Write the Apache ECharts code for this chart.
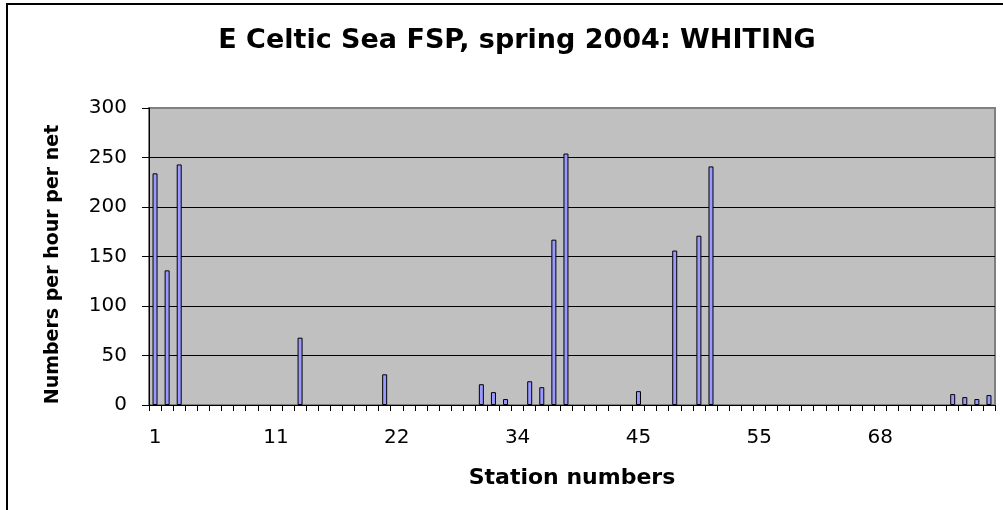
<!DOCTYPE html>
<html>
<head>
<meta charset="utf-8">
<script src="https://cdn.jsdelivr.net/npm/echarts@6/dist/echarts.min.js"></script>
<style>html,body{margin:0;padding:0;background:#fff}#c{width:1003px;height:510px}</style>
</head>
<body>
<div id="c"></div>
<script>
const stations = [1,2,3,4,5,6,7,8,9,10,
  11,12,13,14,15,16,17,18,19,21,
  22,23,24,25,26,27,28,30,31,33,
  34,35,36,37,38,39,40,41,42,44,
  45,46,47,48,49,50,51,52,53,54,
  55,56,57,58,60,61,63,64,65,67,
  68,69,70,71,72,73,74,75,76,77];
const whiting = [234,136,243,0,0,0,0,0,0,0,
  0,0,68,0,0,0,0,0,0,31,
  0,0,0,0,0,0,0,21,13,6,
  0,24,18,167,254,0,0,0,0,0,
  14,0,0,156,0,171,241,0,0,0,
  0,0,0,0,0,0,0,0,0,0,
  0,0,0,0,0,0,11,8,6,10];
const yTicks = [0,50,100,150,200,250,300];

const chart = echarts.init(document.getElementById('c'), null, {renderer:'canvas'});
chart.setOption({
  animation:false,
  backgroundColor:'#ffffff',
  title:{
    text:'E Celtic Sea FSP, spring 2004: WHITING',
    left:512, top:22, textAlign:'center',
    textStyle:{fontFamily:'DejaVu Sans', fontWeight:'bold', fontSize:27, color:'#000'}
  },
  graphic:[{type:'rect', shape:{x:7,y:4,width:1010,height:520}, style:{fill:'none', stroke:'#000', lineWidth:2}, z:-1}],
  grid:{left:149, right:8, top:108, bottom:105, show:true, backgroundColor:'#c0c0c0', borderColor:'#808080', borderWidth:2},
  xAxis:{
    type:'category', data:stations.map(String),
    name:'Station numbers', nameLocation:'middle', nameGap:62,
    nameTextStyle:{fontFamily:'DejaVu Sans', fontWeight:'bold', fontSize:22, color:'#000'},
    axisLine:{lineStyle:{color:'#000', width:1}},
    axisTick:{show:true, interval:0, length:6, lineStyle:{color:'#000'}},
    axisLabel:{interval:9, margin:23, fontFamily:'DejaVu Sans', fontSize:20, color:'#000'}
  },
  yAxis:{
    type:'value', min:yTicks[0], max:yTicks[yTicks.length-1], interval:50,
    name:'Numbers per hour per net', nameLocation:'middle', nameGap:86,
    nameTextStyle:{fontFamily:'DejaVu Sans', fontWeight:'bold', fontSize:19, color:'#000', padding:[0,16,0,0]},
    axisLine:{show:true, lineStyle:{color:'#000', width:1}},
    axisTick:{show:true, length:7, lineStyle:{color:'#000'}},
    axisLabel:{margin:22, fontFamily:'DejaVu Sans', fontSize:20, color:'#000'},
    splitLine:{show:true, showMaxLine:false, lineStyle:{color:'#000', width:1}}
  },
  series:[{
    type:'bar', data:whiting.map(v => (v === 0 ? null : v)), barWidth:5,
    itemStyle:{color:'#9999ff', borderColor:'#000', borderWidth:1}
  }]
});
</script>
</body>
</html>
